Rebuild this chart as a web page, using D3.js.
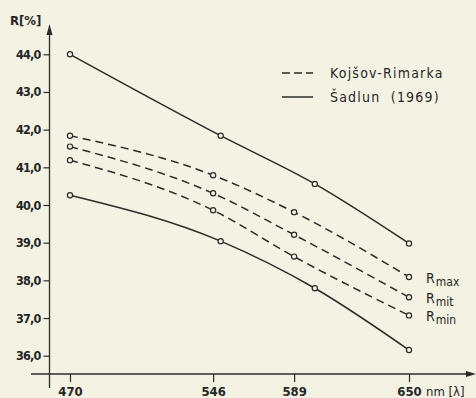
<!DOCTYPE html>
<html>
<head>
<meta charset="utf-8">
<script src="https://cdn.jsdelivr.net/npm/d3@7"></script>
<style>
  html, body { margin: 0; padding: 0; background: #f4f2e3; }
  svg { display: block; }
  text { fill: #262626; white-space: pre; }
</style>
</head>
<body>
<svg id="chart" width="476" height="398"></svg>
<script>
// Reflectance R[%] against wavelength λ [nm]
const wavelengthsKR = [470, 546, 589, 650];          // Kojšov-Rimarka measurements
const rMax = [41.84, 40.79, 39.81, 38.09];
const rMit = [41.55, 40.31, 39.21, 37.55];
const rMin = [41.19, 39.86, 38.63, 37.07];

const wavelengthsS = [470, 550, 600, 650];           // Šadlun (1969)
const sadlunUpper = [44.0, 41.84, 40.56, 38.98];
const sadlunLower = [40.26, 39.04, 37.79, 36.15];

const yTicks = [36, 37, 38, 39, 40, 41, 42, 43, 44];
const xTicks = [470, 546, 589, 650];
const seriesLabels = [["R", "max"], ["R", "mit"], ["R", "min"]];
const legendLabels = ["Kojšov-Rimarka", "Šadlun  (1969)"];

const ink = "#2b2b2b";
const font = "'DejaVu Sans Condensed', 'DejaVu Sans', sans-serif";
const svg = d3.select("#chart");

const x = d3.scaleLinear().domain([470, 650]).range([70, 409]);
const y = d3.scaleLinear().domain([36, 44]).range([355.7, 54.3]);

const axisX = 49.5, axisY = 374;

// axis lines with arrowheads
svg.append("line").attr("x1", axisX).attr("x2", axisX).attr("y1", 30).attr("y2", 388)
  .attr("stroke", ink).attr("stroke-width", 1.3);
svg.append("path").attr("d", `M${axisX},24 L${axisX - 3},35 L${axisX + 3},35 Z`).attr("fill", ink);
svg.append("line").attr("x1", 31).attr("x2", 470).attr("y1", axisY).attr("y2", axisY)
  .attr("stroke", ink).attr("stroke-width", 1.3);
svg.append("path").attr("d", `M476,${axisY} L466,${axisY - 3} L466,${axisY + 3} Z`).attr("fill", ink);

// y axis ticks and labels
const yAxis = svg.append("g").attr("transform", `translate(${axisX},0)`)
  .call(d3.axisLeft(y).tickValues(yTicks).tickSize(6).tickSizeOuter(0).tickPadding(3)
    .tickFormat(d => d.toFixed(1).replace(".", ",")));
yAxis.select(".domain").remove();
yAxis.selectAll(".tick line").attr("stroke", ink).attr("stroke-width", 1.2);
yAxis.selectAll(".tick text")
  .attr("font-family", font)
  .attr("font-weight", "bold").attr("font-size", 12.5).attr("letter-spacing", -0.8)
  .attr("fill", ink);

svg.append("text").attr("x", 10).attr("y", 25)
  .attr("font-family", font).attr("font-weight", "bold")
  .attr("font-size", 13).text("R[%]");

// x axis ticks and labels
const xAxis = svg.append("g").attr("transform", `translate(0,${axisY})`)
  .call(d3.axisBottom(x).tickValues(xTicks).tickSize(8).tickSizeOuter(0).tickPadding(5)
    .tickFormat(d3.format("d")));
xAxis.select(".domain").remove();
xAxis.selectAll(".tick line").attr("stroke", ink).attr("stroke-width", 1.2);
xAxis.selectAll(".tick text")
  .attr("font-family", font).attr("font-weight", "bold")
  .attr("font-size", 13).attr("fill", ink);
svg.append("text").attr("x", x(650) + 17).attr("y", axisY + 22)
  .attr("font-family", font)
  .attr("font-size", 13).text("nm [λ]");

// curves
const line = d3.line().x(d => x(d[0])).y(d => y(d[1])).curve(d3.curveMonotoneX);

function drawSeries(xs, vals, dashed) {
  const pts = xs.map((w, i) => [w, vals[i]]);
  svg.append("path").datum(pts).attr("d", line)
    .attr("fill", "none").attr("stroke", ink).attr("stroke-width", 1.5)
    .attr("stroke-dasharray", dashed ? "8,5" : null);
  svg.append("g").selectAll("circle").data(pts).join("circle")
    .attr("cx", d => x(d[0])).attr("cy", d => y(d[1])).attr("r", 2.6)
    .attr("fill", "#f4f2e3").attr("stroke", ink).attr("stroke-width", 1.2);
}

[rMax, rMit, rMin].forEach(v => drawSeries(wavelengthsKR, v, true));
[sadlunUpper, sadlunLower].forEach(v => drawSeries(wavelengthsS, v, false));

// end labels for the dashed series
[rMax, rMit, rMin].forEach((v, i) => {
  const t = svg.append("text").attr("x", x(650) + 17).attr("y", y(v[3]) + 6)
    .attr("font-family", font)
    .attr("font-size", 14);
  t.append("tspan").text(seriesLabels[i][0]);
  t.append("tspan").attr("dy", 3).attr("font-size", 12).attr("dx", 1).text(seriesLabels[i][1]);
});

// legend
const legend = svg.append("g");
[[73, "8,4"], [97, null]].forEach(([ly, dash], i) => {
  legend.append("line").attr("x1", 282).attr("x2", 313).attr("y1", ly).attr("y2", ly)
    .attr("stroke", ink).attr("stroke-width", 1.5).attr("stroke-dasharray", dash);
  legend.append("text").attr("x", 330).attr("y", ly + 5)
    .attr("font-family", font)
    .attr("font-size", 14).attr("letter-spacing", 1.2).text(legendLabels[i]);
});
</script>
</body>
</html>
